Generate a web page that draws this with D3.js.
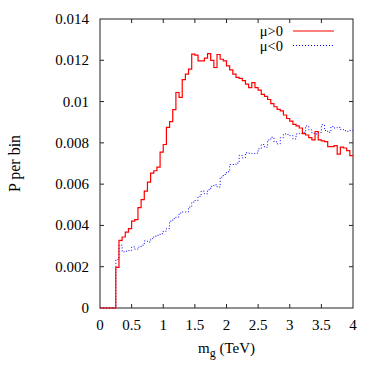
<!DOCTYPE html>
<html>
<head>
<meta charset="utf-8">
<script src="https://cdn.jsdelivr.net/npm/d3@7"></script>
<style>
  html, body { margin: 0; padding: 0; background: #fff; }
</style>
</head>
<body>
<svg id="chart" width="380" height="372"></svg>
<script>
// ---- data (probability per 0.05 TeV bin, bins from 0 to 4 TeV) ----
const binEdgesStart = 0;
const binWidth = 0.05;
const seriesNames = ["\u03bc>0", "\u03bc<0"];
const muPositive = [
  0, 0, 0, 0, 0,
  0.00197, 0.00328, 0.00344, 0.00368, 0.00385,
  0.00421, 0.00428, 0.00486, 0.00525, 0.00566,
  0.00610, 0.00653, 0.00665, 0.00682, 0.00755,
  0.00792, 0.00875, 0.00903, 0.00961, 0.01044,
  0.01020, 0.01106, 0.01133, 0.01157, 0.01230,
  0.01225, 0.01197, 0.01197, 0.01210, 0.01232,
  0.01200, 0.01165, 0.01228, 0.01205, 0.01197,
  0.01173, 0.01154, 0.01133, 0.01117, 0.01112,
  0.01101, 0.01085, 0.01068, 0.01092, 0.01068,
  0.01055, 0.01035, 0.01025, 0.01010, 0.00990,
  0.00975, 0.00962, 0.00955, 0.00935, 0.00918,
  0.00905, 0.00890, 0.00882, 0.00872, 0.00845,
  0.00838, 0.00825, 0.00814, 0.00855, 0.00814,
  0.00810, 0.00806, 0.00782, 0.00782, 0.00787,
  0.00745, 0.00779, 0.00775, 0.00762, 0.00738
];
const muNegative = [
  0, 0, 0, 0, 0,
  0.00235, 0.00304, 0.00272, 0.00275, 0.00278,
  0.00296, 0.00285, 0.00295, 0.00304, 0.00325,
  0.00320, 0.00336, 0.00348, 0.00352, 0.00360,
  0.00372, 0.00385, 0.00421, 0.00433, 0.00441,
  0.00460, 0.00465, 0.00465, 0.00489, 0.00513,
  0.00521, 0.00541, 0.00566, 0.00553, 0.00573,
  0.00589, 0.00597, 0.00586, 0.00634, 0.00647,
  0.00660, 0.00695, 0.00695, 0.00702, 0.00739,
  0.00727, 0.00752, 0.00750, 0.00748, 0.00750,
  0.00771, 0.00792, 0.00779, 0.00814, 0.00827,
  0.00805, 0.00795, 0.00825, 0.00843, 0.00840,
  0.00835, 0.00819, 0.00843, 0.00846, 0.00850,
  0.00882, 0.00863, 0.00846, 0.00843, 0.00850,
  0.00888, 0.00860, 0.00851, 0.00879, 0.00872,
  0.00875, 0.00865, 0.00859, 0.00856, 0.00860
];
const xTicks = [0, 0.5, 1, 1.5, 2, 2.5, 3, 3.5, 4];
const xTickLabels = ["0", "0.5", "1", "1.5", "2", "2.5", "3", "3.5", "4"];
const yTicks = [0, 0.002, 0.004, 0.006, 0.008, 0.01, 0.012, 0.014];
const yTickLabels = ["0", "0.002", "0.004", "0.006", "0.008", "0.01", "0.012", "0.014"];

// ---- layout ----
const FONT = "'Liberation Serif', 'DejaVu Serif', 'Noto Serif', 'Times New Roman', Tinos, Times, Georgia, serif";
const svg = d3.select("#chart");
const pL = 100, pR = 353, pT = 19, pB = 308;
const x = d3.scaleLinear().domain([0, 4]).range([pL, pR]);
const y = d3.scaleLinear().domain([0, 0.014]).range([pB, pT]);
const fs = 15;

function txt(sel) {
  return sel.append("text").style("font-family", FONT).attr("fill", "#000");
}

function stepPoints(vals) {
  const pts = vals.map((v, i) => [binEdgesStart + i * binWidth, v]);
  pts.push([binEdgesStart + vals.length * binWidth, vals[vals.length - 1]]);
  return pts;
}
const line = d3.line().x(d => x(d[0])).y(d => y(d[1])).curve(d3.curveStepAfter);

// frame
svg.append("rect").attr("x", pL).attr("y", pT)
  .attr("width", pR - pL).attr("height", pB - pT)
  .attr("fill", "none").attr("stroke", "#222").attr("stroke-width", 1);

// ticks (inside, all four sides)
const tl = 4;
const tickG = svg.append("g").attr("stroke", "#222").attr("stroke-width", 1);
xTicks.forEach(t => {
  if (t === 0 || t === 4) return;
  tickG.append("line").attr("x1", x(t)).attr("x2", x(t)).attr("y1", pB).attr("y2", pB - tl);
  tickG.append("line").attr("x1", x(t)).attr("x2", x(t)).attr("y1", pT).attr("y2", pT + tl);
});
yTicks.forEach(t => {
  if (t === 0 || t === 0.014) return;
  tickG.append("line").attr("x1", pL).attr("x2", pL + tl).attr("y1", y(t)).attr("y2", y(t));
  tickG.append("line").attr("x1", pR).attr("x2", pR - tl).attr("y1", y(t)).attr("y2", y(t));
});

// tick labels
xTicks.forEach((t, i) => {
  txt(svg).attr("x", x(t)).attr("y", 330)
    .attr("text-anchor", "middle").attr("font-size", fs).text(xTickLabels[i]);
});
yTicks.forEach((t, i) => {
  txt(svg).attr("x", 89).attr("y", y(t) + 5)
    .attr("text-anchor", "end").attr("font-size", fs).text(yTickLabels[i]);
});

// axis titles
const xt = txt(svg).attr("x", (pL + pR) / 2).attr("y", 353)
  .attr("text-anchor", "middle").attr("font-size", fs);
xt.append("tspan").text("m");
xt.append("tspan").attr("dy", 4).attr("font-size", 12).text("g");
xt.append("tspan").attr("dy", -4).text(" (TeV)");

txt(svg)
  .attr("transform", `translate(20,${(pT + pB) / 2}) rotate(-90)`)
  .attr("text-anchor", "middle").attr("font-size", 16).text("P per bin");

// series
svg.append("path").datum(stepPoints(muNegative)).attr("d", line)
  .attr("fill", "none").attr("stroke", "#0000ff").attr("stroke-width", 1)
  .attr("stroke-dasharray", "1,2");
svg.append("path").datum(stepPoints(muPositive)).attr("d", line)
  .attr("fill", "none").attr("stroke", "#ff0000").attr("stroke-width", 1.2);

// legend
const legY = [31, 45.5];
const legStyles = [
  { stroke: "#ff0000", dash: null, w: 1.2 },
  { stroke: "#0000ff", dash: "1,2", w: 1 }
];
seriesNames.forEach((n, i) => {
  txt(svg).attr("x", 283).attr("y", legY[i] + 5)
    .attr("text-anchor", "end").attr("font-size", 14.5).text(n);
  const l = svg.append("line").attr("x1", 293).attr("x2", 334)
    .attr("y1", legY[i]).attr("y2", legY[i])
    .attr("stroke", legStyles[i].stroke).attr("stroke-width", legStyles[i].w);
  if (legStyles[i].dash) l.attr("stroke-dasharray", legStyles[i].dash);
});
</script>
</body>
</html>
